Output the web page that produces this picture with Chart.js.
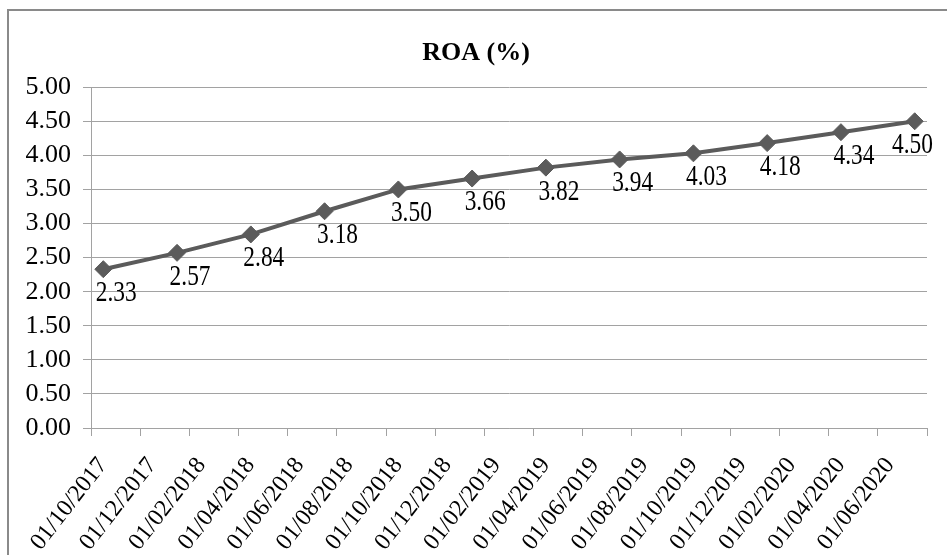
<!DOCTYPE html>
<html>
<head>
<meta charset="utf-8">
<script src="https://cdn.jsdelivr.net/npm/chart.js@4.4.0/dist/chart.umd.min.js"></script>
<style>
  html, body { margin: 0; padding: 0; background: #fff; overflow: hidden; }
  .frame { position: absolute; left: 7px; top: 9px; width: 1000px; height: 1000px; border: 2px solid #8a8a8a; }
  #roaChart { position: absolute; left: 0; top: 0; }
</style>
</head>
<body>
<div class="frame"></div>
<canvas id="roaChart" width="947" height="555"></canvas>
<script>
// quarterly ROA readings (month/year)
let periods = ['10/2017', '01/2018', '04/2018', '07/2018', '10/2018', '01/2019',
               '04/2019', '07/2019', '10/2019', '01/2020', '04/2020', '07/2020'];
let roaValues = [2.33, 2.57, 2.84, 3.18, 3.50, 3.66, 3.82, 3.94, 4.03, 4.18, 4.34, 4.50];

// date axis labels, one every two months starting at the axis origin
let tickLabels = ['01/10/2017', '01/12/2017', '01/02/2018', '01/04/2018', '01/06/2018',
                  '01/08/2018', '01/10/2018', '01/12/2018', '01/02/2019', '01/04/2019',
                  '01/06/2019', '01/08/2019', '01/10/2019', '01/12/2019', '01/02/2020',
                  '01/04/2020', '01/06/2020', ''];

let yTicks = [0, 0.5, 1, 1.5, 2, 2.5, 3, 3.5, 4, 4.5, 5];

let startYear = 2017, startMonth = 10;

// month position on the axis, centred inside its month like Excel does
function monthPos(p) {
    let [m, y] = p.split('/').map(Number);
    return (y - startYear) * 12 + (m - startMonth) + 0.5;
}

let points = periods.map((p, i) => ({ x: monthPos(p), y: roaValues[i] }));

let lineColor = '#5b5b5b';
let gridColor = '#a2a2a2';

const valueLabels = {
    id: 'valueLabels',
    afterDatasetsDraw(chart) {
        const ctx = chart.ctx;
        const meta = chart.getDatasetMeta(0);
        ctx.save();
        ctx.font = '30px "Liberation Serif"';
        ctx.fillStyle = '#000';
        ctx.textAlign = 'center';
        ctx.textBaseline = 'middle';
        meta.data.forEach((pt, i) => {
            let txt = roaValues[i].toFixed(2);
            let sx = 0.78;
            let w = ctx.measureText(txt).width * sx;
            let cx = pt.x + 13;
            let maxRight = chart.chartArea.right + 6;
            if (cx + w / 2 > maxRight) cx = maxRight - w / 2;
            ctx.save();
            ctx.translate(cx, pt.y + 24);
            ctx.scale(sx, 1);
            ctx.fillText(txt, 0, 0);
            ctx.restore();
        });
        ctx.restore();
    }
};

new Chart(document.getElementById('roaChart'), {
    type: 'line',
    data: {
        datasets: [{
            data: points,
            borderColor: lineColor,
            backgroundColor: lineColor,
            borderWidth: 4,
            tension: 0,
            pointStyle: 'rectRot',
            pointRadius: 8.5,
            pointBorderWidth: 1,
            pointBorderColor: lineColor,
            pointBackgroundColor: lineColor
        }]
    },
    options: {
        responsive: false,
        animation: false,
        devicePixelRatio: 1,
        layout: { padding: { left: 25, right: 20, top: 0, bottom: 0 } },
        plugins: {
            legend: { display: false },
            tooltip: { enabled: false },
            title: {
                display: true,
                text: 'ROA (%)',
                color: '#000',
                font: { family: '"Liberation Serif"', size: 26, weight: 'bold', lineHeight: 1.2 },
                padding: { top: 38, bottom: 18 }
            }
        },
        scales: {
            x: {
                type: 'linear',
                min: 0,
                max: 34,
                afterBuildTicks(scale) {
                    scale.ticks = tickLabels.map((t, i) => ({ value: i * 2 }));
                },
                afterFit(scale) {
                    scale.height = 127;
                    scale.paddingLeft = 0;
                    scale.paddingRight = 0;
                },
                grid: { drawOnChartArea: false, drawTicks: true, tickLength: 8, color: gridColor, lineWidth: 1 },
                border: { display: true, color: gridColor, width: 1 },
                ticks: {
                    autoSkip: false,
                    minRotation: 52,
                    maxRotation: 52,
                    padding: 16,
                    labelOffset: 12,
                    color: '#000',
                    font: { family: '"Liberation Serif"', size: 24 },
                    callback: (v, i) => tickLabels[i] ?? ''
                }
            },
            y: {
                min: 0,
                max: 5,
                afterBuildTicks(scale) {
                    scale.ticks = yTicks.map(v => ({ value: v }));
                },
                afterFit(scale) { scale.width = 66; },
                grid: { drawTicks: true, tickLength: 8, color: gridColor, lineWidth: 1 },
                border: { display: true, color: gridColor, width: 1 },
                ticks: {
                    autoSkip: false,
                    padding: 12,
                    color: '#000',
                    font: { family: '"Liberation Serif"', size: 26 },
                    callback: v => Number(v).toFixed(2)
                }
            }
        }
    },
    plugins: [valueLabels]
});
</script>
</body>
</html>
